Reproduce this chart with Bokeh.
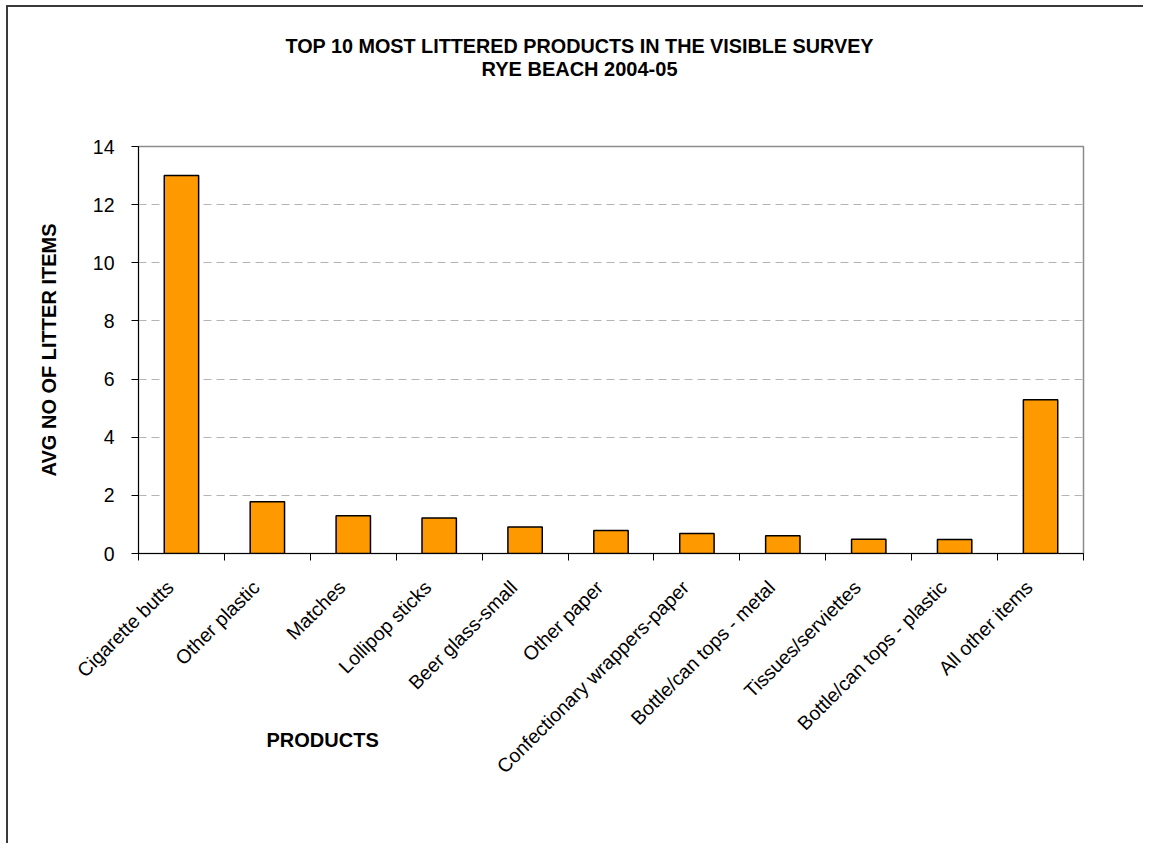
import math
from bokeh.plotting import figure
from bokeh.models import (Range1d, FixedTicker, CustomJSTickFormatter, Title,
                          ColumnDataSource)
from bokeh.embed import file_html
from bokeh.resources import INLINE

# ---- data ----
products = ["Cigarette butts", "Other plastic", "Matches", "Lollipop sticks",
            "Beer glass-small", "Other paper", "Confectionary wrappers-paper",
            "Bottle/can tops - metal", "Tissues/serviettes",
            "Bottle/can tops - plastic", "All other items"]
avg_items = [13.0, 1.78, 1.30, 1.22, 0.91, 0.79, 0.69, 0.61, 0.49, 0.48, 5.29]
y_ticks = [0, 2, 4, 6, 8, 10, 12, 14]
title_lines = ["TOP 10 MOST LITTERED PRODUCTS IN THE VISIBLE SURVEY",
               "RYE BEACH 2004-05"]
x_title = "PRODUCTS"
y_title = "AVG NO OF LITTER ITEMS"

n = len(products)
centers = [i + 0.5 for i in range(n)]
bounds = list(range(n + 1))

FONT = "Liberation Sans"

p = figure(frame_width=945, frame_height=407,
           x_range=Range1d(0, n), y_range=Range1d(0, 14),
           output_backend="svg", toolbar_location=None,
           min_border_left=130, min_border_top=139,
           min_border_right=60, min_border_bottom=290)
p.styles = {"border-left": "2px solid #3a3a3a", "border-top": "2px solid #3a3a3a",
            "margin-left": "6px", "margin-top": "5px"}

src = ColumnDataSource(dict(x=centers, top=avg_items))
p.vbar(x="x", top="top", width=0.4, bottom=0, source=src,
       fill_color="#FF9900", line_color="#000000", line_width=1.5)

p.outline_line_color = "#8c8c8c"
p.outline_line_width = 1.5
p.background_fill_color = "white"
p.border_fill_color = "white"

# grid
p.xgrid.grid_line_color = None
p.ygrid.ticker = FixedTicker(ticks=y_ticks)
p.ygrid.grid_line_color = "#b4b4b4"
p.ygrid.grid_line_dash = "8 5"
p.ygrid.grid_line_width = 1

# y axis
ya = p.yaxis[0]
ya.ticker = FixedTicker(ticks=y_ticks)
ya.axis_line_color = "#000000"
ya.major_tick_line_color = "#000000"
ya.major_tick_out = 7
ya.major_tick_in = 0
ya.minor_tick_line_color = None
ya.major_label_text_font = FONT
ya.major_label_text_font_size = "19.5px"
ya.major_label_text_color = "#000000"
ya.major_label_standoff = 17
ya.axis_label = y_title
ya.axis_label_text_font = FONT
ya.axis_label_text_font_size = "20px"
ya.axis_label_text_font_style = "bold"
ya.axis_label_text_color = "#000000"
ya.axis_label_standoff = 30

# x axis
xa = p.xaxis[0]
xa.ticker = FixedTicker(ticks=centers, minor_ticks=bounds)
xa.formatter = CustomJSTickFormatter(
    args=dict(labels=products),
    code="return labels[Math.round(tick - 0.5)] + '\\u00a0\\u00a0\\u00a0';")
xa.axis_line_color = "#000000"
xa.major_tick_out = 0
xa.major_tick_in = 0
xa.minor_tick_out = 7
xa.minor_tick_in = 0
xa.minor_tick_line_color = "#000000"
xa.major_label_orientation = math.pi / 4
xa.major_label_text_font = FONT
xa.major_label_text_font_size = "19.5px"
xa.major_label_text_color = "#000000"
xa.major_label_standoff = 12

tstyle = dict(text_font=FONT, text_font_style="bold", text_color="#000000",
              vertical_align="top", align="left")
p.add_layout(Title(text=title_lines[1], offset=343, standoff=-177,
                   text_font_size="20px", **tstyle), "above")
p.add_layout(Title(text=title_lines[0], offset=147, standoff=-223,
                   text_font_size="19.8px", **tstyle), "above")
p.add_layout(Title(text=x_title, offset=128, standoff=-120,
                   text_font_size="20px", **tstyle), "below")

open("out.html", "w").write(file_html(p, INLINE))
